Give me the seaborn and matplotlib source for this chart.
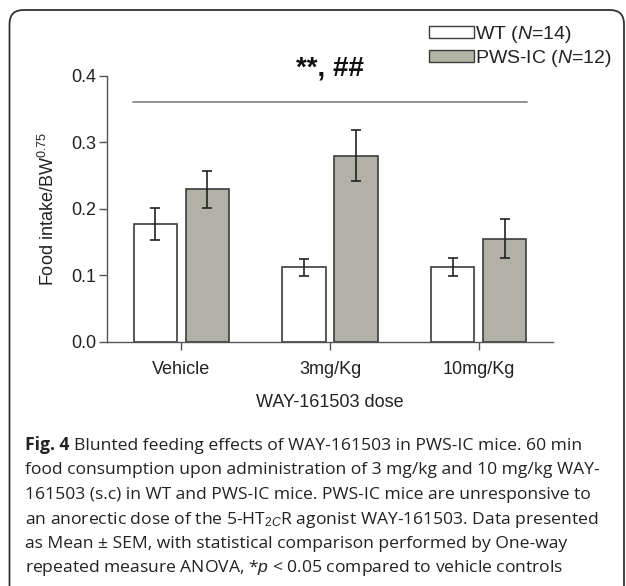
import matplotlib
matplotlib.use("Agg")
import numpy as np
import pandas as pd
import matplotlib.pyplot as plt
from matplotlib.patches import Patch, FancyBboxPatch
import seaborn as sns

# data (mean +- SEM)
doses = ["Vehicle", "3mg/Kg", "10mg/Kg"]
groups = ["WT", "PWS-IC"]
wt_mean = [0.177, 0.112, 0.113]
wt_sem = [0.024, 0.013, 0.0135]
pws_mean = [0.229, 0.280, 0.155]
pws_sem = [0.028, 0.039, 0.0295]
legend_labels = [r"WT ($\mathit{N}$=14)", r"PWS-IC ($\mathit{N}$=12)"]
sig_text = "**, ##"
sig_level = 0.361

caption_head = "Fig. 4"
caption = [
    "Blunted feeding effects of WAY-161503 in PWS-IC mice. 60 min",
    "food consumption upon administration of 3 mg/kg and 10 mg/kg WAY-",
    "161503 (s.c) in WT and PWS-IC mice. PWS-IC mice are unresponsive to",
    r"an anorectic dose of the 5-HT$_{2C}$R agonist WAY-161503. Data presented",
    "as Mean \u00b1 SEM, with statistical comparison performed by One-way",
    r"repeated measure ANOVA, *$p$ < 0.05 compared to vehicle controls",
]

sns.set_theme(style="ticks")
plt.rcParams["font.family"] = ["Liberation Sans", "DejaVu Sans"]
plt.rcParams["mathtext.fontset"] = "custom"
plt.rcParams["mathtext.rm"] = "Liberation Sans"
plt.rcParams["mathtext.it"] = "Liberation Sans:italic"
plt.rcParams["mathtext.bf"] = "Liberation Sans:bold"

W, H = 626, 586
fig = plt.figure(figsize=(W / 100, H / 100), dpi=100)
ax = fig.add_axes([107 / W, 1 - 342 / H, 446 / W, (342 - 75.6) / H])

df = pd.DataFrame({
    "dose": doses * 2,
    "group": [groups[0]] * 3 + [groups[1]] * 3,
    "value": wt_mean + pws_mean,
})
sns.barplot(data=df, x="dose", y="value", hue="group", hue_order=groups,
            palette={"WT": "white", "PWS-IC": "#b3b4a3"},
            edgecolor="#3c3c3c", linewidth=1.2, width=0.7, gap=0.17,
            errorbar=None, legend=False, ax=ax)

for bars, sem in zip(ax.containers, [wt_sem, pws_sem]):
    xs = [b.get_x() + b.get_width() / 2 for b in bars]
    ys = [b.get_height() for b in bars]
    ax.errorbar(xs, ys, yerr=sem, fmt="none", ecolor="#222222",
                elinewidth=1.2, capsize=3.5, capthick=1.2)

ax.set_xlim(-0.5, 2.5)
ax.set_ylim(0, 0.4)
ax.set_yticks([0.0, 0.1, 0.2, 0.3, 0.4])
sns.despine(ax=ax)
for s in ["left", "bottom"]:
    ax.spines[s].set_color("#555555")
    ax.spines[s].set_linewidth(1.0)
ax.tick_params(axis="both", direction="out", length=6, width=1.0,
               color="#555555", labelsize=13, labelcolor="#222222")
ax.tick_params(axis="x", pad=8)
ax.tick_params(axis="y", pad=2)
ax.set_xlabel("WAY-161503 dose", fontsize=13, color="#222222", labelpad=11)
ax.set_ylabel(r"Food intake/BW$^{0.75}$", fontsize=13, color="#222222", labelpad=9)

# significance bar
ax.plot([-0.325, 2.325], [sig_level, sig_level], color="#8a8a8a", lw=1.3,
        clip_on=False)
ax.text(1.0, 0.411, sig_text, ha="center", va="center", fontsize=20,
        fontweight="bold", color="#111111", clip_on=False)

handles = [Patch(facecolor="white", edgecolor="#3c3c3c", linewidth=1.0),
           Patch(facecolor="#b3b4a3", edgecolor="#3c3c3c", linewidth=1.0)]
ax.legend(handles, legend_labels, loc="upper left",
          bbox_to_anchor=(429 / W, 1 - 24 / H), bbox_transform=fig.transFigure,
          frameon=False, borderpad=0, borderaxespad=0, fontsize=14,
          handlelength=2.3, handleheight=0.55, handletextpad=0.05,
          labelspacing=0.15, labelcolor="#222222")

# rounded frame around the panel
frame = FancyBboxPatch((0.095, -0.3), 6.145, 6.06,
                       boxstyle="round,pad=0,rounding_size=0.14",
                       transform=fig.dpi_scale_trans, facecolor="none",
                       edgecolor="#333333", linewidth=1.3)
fig.add_artist(frame)

# caption
renderer = fig.canvas.get_renderer()
probe = fig.text(0, 0, caption[1], family="Open Sans", fontsize=12)
cap_fs = 12 * 573 / probe.get_window_extent(renderer).width
probe.remove()

x0 = 25
baselines = [450 + 24.5 * i for i in range(len(caption))]
head = fig.text(x0 / W, 1 - baselines[0] / H, caption_head, family="Open Sans",
                fontweight="bold", fontsize=cap_fs, va="baseline", color="#222222")
head_w = head.get_window_extent(renderer).width
for i, line in enumerate(caption):
    x = x0 + (head_w + 5 if i == 0 else 0)
    fig.text(x / W, 1 - baselines[i] / H, line, family="Open Sans",
             fontsize=cap_fs, va="baseline", color="#222222")

fig.savefig("out.png", dpi=100, facecolor="white")
